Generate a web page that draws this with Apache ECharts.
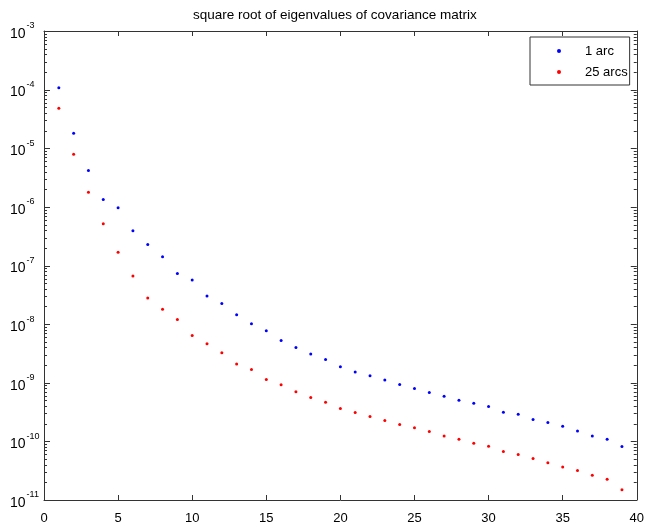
<!DOCTYPE html>
<html><head><meta charset="utf-8">
<script src="https://cdn.jsdelivr.net/npm/echarts@6/dist/echarts.min.js"></script>
<style>html,body{margin:0;padding:0;background:#fff}#c{width:647px;height:527px}</style>
</head><body><div id="c"></div>
<script>
const titleText = 'square root of eigenvalues of covariance matrix';
const seriesNames = ['1 arc', '25 arcs'];
const indices = [1,2,3,4,5,6,7,8,9,10,11,12,13,14,15,16,17,18,19,20,21,22,23,24,25,26,27,28,29,30,31,32,33,34,35,36,37,38,39];
const arc1 = [1.08e-4,1.80e-5,4.19e-6,1.34e-6,9.66e-7,3.92e-7,2.29e-7,1.41e-7,7.33e-8,5.64e-8,
  3.01e-8,2.25e-8,1.44e-8,1.01e-8,7.69e-9,5.26e-9,4.00e-9,3.08e-9,2.49e-9,1.87e-9,
  1.53e-9,1.31e-9,1.11e-9,9.35e-10,8.0e-10,6.83e-10,5.90e-10,5.05e-10,4.49e-10,3.94e-10,
  3.15e-10,2.91e-10,2.36e-10,2.10e-10,1.82e-10,1.51e-10,1.24e-10,1.09e-10,8.18e-11];
const arc25 = [4.79e-5,7.87e-6,1.77e-6,5.15e-7,1.69e-7,6.59e-8,2.78e-8,1.80e-8,1.20e-8,6.41e-9,
  4.61e-9,3.24e-9,2.08e-9,1.69e-9,1.14e-9,9.2e-10,7.0e-10,5.61e-10,4.67e-10,3.64e-10,
  3.11e-10,2.66e-10,2.28e-10,1.94e-10,1.70e-10,1.47e-10,1.24e-10,1.09e-10,9.3e-11,8.28e-11,
  6.71e-11,5.97e-11,5.1e-11,4.30e-11,3.67e-11,3.18e-11,2.65e-11,2.26e-11,1.49e-11];
const xTicks = [0,5,10,15,20,25,30,35,40];
const yDecadeExponents = [-11,-10,-9,-8,-7,-6,-5,-4,-3];
const minorMantissas = [2,3,4,5,6,7,8,9];

const yMin = Math.pow(10, yDecadeExponents[0]);
const yMax = Math.pow(10, yDecadeExponents[yDecadeExponents.length-1]);
const tickVals = [];
for (let i = 0; i < yDecadeExponents.length; i++) {
  tickVals.push([0, Math.pow(10, yDecadeExponents[i]), 1]);
  if (i < yDecadeExponents.length - 1)
    for (const m of minorMantissas) tickVals.push([0, m * Math.pow(10, yDecadeExponents[i]), 0]);
}

const FONT = 'Liberation Sans, Arial, sans-serif';
const AXC = '#333';
const chart = echarts.init(document.getElementById('c'), null, {renderer: 'canvas'});
const lblFmt = v => '{b|10}{s|' + Math.round(Math.log10(v)) + '}';
const rich = {
  b: {fontSize: 14, fontFamily: FONT, color: '#000', padding: [6, 1, 0, 0]},
  s: {fontSize: 9, fontFamily: FONT, color: '#000', padding: [0, 0, 10, 0]}
};
chart.setOption({
  animation: false,
  backgroundColor: '#fff',
  title: {text: titleText, left: 193, top: 8, padding: 0,
    textStyle: {fontSize: 13.5, fontWeight: 'normal', fontFamily: FONT, color: '#000'}},
  grid: {left: 44, right: 8, top: 31, bottom: 27, containLabel: false},
  legend: {
    orient: 'vertical', left: 530, top: 37, width: 100,
    backgroundColor: '#fff', borderColor: AXC, borderWidth: 1,
    padding: [7, 2, 6, 27], itemGap: 7, itemWidth: 4, itemHeight: 4,
    data: [{name: seriesNames[0], icon: 'circle'}, {name: seriesNames[1], icon: 'circle'}],
    textStyle: {fontSize: 13, fontFamily: FONT, color: '#000', padding: [0, 0, 0, 19], lineHeight: 14}
  },
  xAxis: [
    {type: 'value', min: xTicks[0], max: xTicks[xTicks.length-1], interval: 5, position: 'bottom',
     axisLine: {onZero: false, lineStyle: {color: AXC}}, axisTick: {inside: true, length: 5, lineStyle: {color: AXC}},
     axisLabel: {fontSize: 13, fontFamily: FONT, color: '#000', margin: 12}, splitLine: {show: false}},
    {type: 'value', min: xTicks[0], max: xTicks[xTicks.length-1], interval: 5, position: 'top',
     axisLine: {onZero: false, lineStyle: {color: AXC}}, axisTick: {inside: true, length: 5, lineStyle: {color: AXC}},
     axisLabel: {show: false}, splitLine: {show: false}}
  ],
  yAxis: [
    {type: 'log', logBase: 10, min: yMin, max: yMax, splitNumber: 8, position: 'left',
     axisLine: {show: true, onZero: false, lineStyle: {color: AXC}}, axisTick: {show: false},
     axisLabel: {formatter: lblFmt, rich: rich, margin: 34, align: 'left', showMinLabel: true, showMaxLabel: true},
     splitLine: {show: false}},
    {type: 'log', logBase: 10, min: yMin, max: yMax, splitNumber: 8, position: 'right',
     axisLine: {show: true, onZero: false, lineStyle: {color: AXC}}, axisTick: {show: false},
     axisLabel: {show: false}, splitLine: {show: false}}
  ],
  series: [
    {name: 'yTicks', type: 'custom', silent: true, clip: false, z: 5,
     data: tickVals,
     renderItem: function (params, api) {
       const v = api.value(1);
       const len = api.value(2) ? 6 : 3;
       const pl = api.coord([xTicks[0], v]);
       const pr = api.coord([xTicks[xTicks.length-1], v]);
       const y = Math.round(pl[1]) + 0.5;
       return {type: 'group', children: [
         {type: 'line', shape: {x1: pl[0], y1: y, x2: pl[0] + len, y2: y}, style: {stroke: AXC, lineWidth: 1}},
         {type: 'line', shape: {x1: pr[0], y1: y, x2: pr[0] - len, y2: y}, style: {stroke: AXC, lineWidth: 1}}
       ]};
     }},
    {name: seriesNames[0], type: 'scatter', symbol: 'circle', symbolSize: 3,
     itemStyle: {color: '#0000ff', opacity: 1}, data: indices.map((x, i) => [x, arc1[i]])},
    {name: seriesNames[1], type: 'scatter', symbol: 'circle', symbolSize: 3,
     itemStyle: {color: '#ff0000', opacity: 1}, data: indices.map((x, i) => [x, arc25[i]])}
  ]
});
</script></body></html>
